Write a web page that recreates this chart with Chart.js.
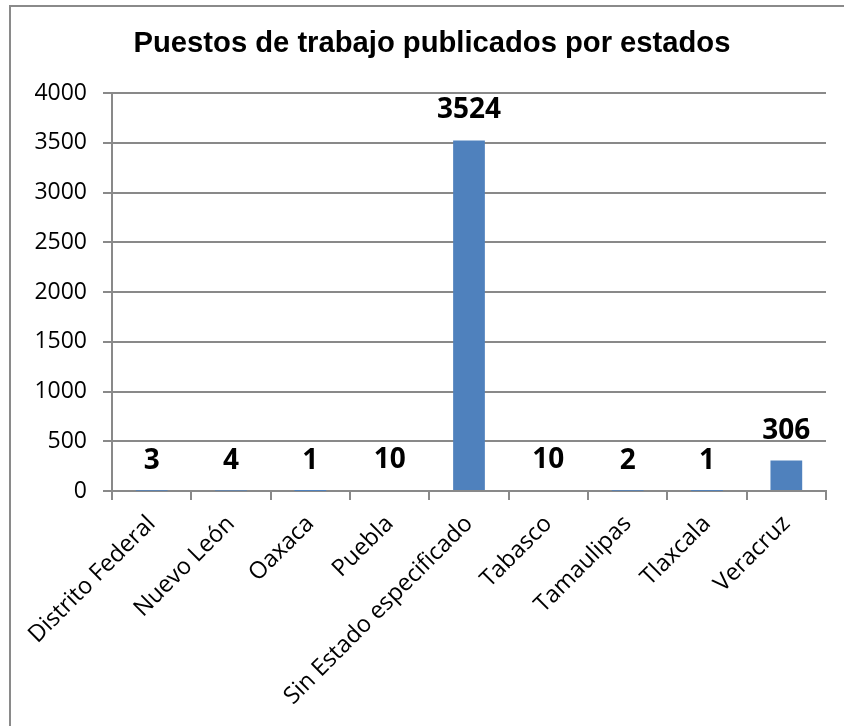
<!DOCTYPE html>
<html lang="es">
<head>
    <meta charset="UTF-8">
    <title>Puestos de trabajo publicados por estados</title>
    <script src="https://cdn.jsdelivr.net/npm/chart.js"></script>
</head>
<style>
    body {
        margin: 0;
        padding: 0;
        background-color: #ffffff;
        overflow: hidden;
    }
    .frame {
        position: absolute;
        left: 9px;
        top: 5px;
        width: 900px;
        height: 800px;
        border-left: 2px solid #8a8a8a;
        border-top: 2px solid #8a8a8a;
    }
    .wrap {
        position: absolute;
        left: 0;
        top: 0;
        width: 844px;
        height: 726px;
    }
</style>
<body>
    <div class="frame"></div>
    <div class="wrap">
        <canvas id="chart" width="844" height="726"></canvas>
    </div>

    <script>
        const estados = ['Distrito Federal', 'Nuevo León', 'Oaxaca', 'Puebla', 'Sin Estado especificado',
                         'Tabasco', 'Tamaulipas', 'Tlaxcala', 'Veracruz'];
        const puestos = [3, 4, 1, 10, 3524, 10, 2, 1, 306];
        const titulo = 'Puestos de trabajo publicados por estados';

        const gris = '#898989';
        const azul = '#4f81bd';

        // etiquetas de valor encima de cada barra
        const etiquetas = {
            id: 'etiquetas',
            afterLayout(chart) {
                // el titulo va centrado en el marco, no en el area del grafico
                chart.titleBlock.left = 38;
            },
            afterDatasetsDraw(chart) {
                const ctx = chart.ctx;
                const meta = chart.getDatasetMeta(0);
                ctx.save();
                ctx.font = 'bold 28px "Open Sans"';
                ctx.fillStyle = '#000000';
                ctx.textAlign = 'center';
                ctx.textBaseline = 'middle';
                meta.data.forEach((bar, i) => {
                    ctx.fillText(String(puestos[i]), bar.x, bar.y - 30);
                });
                ctx.restore();
            }
        };

        const ctx = document.getElementById('chart').getContext('2d');
        const chart = new Chart(ctx, {
            type: 'bar',
            data: {
                labels: estados,
                datasets: [{
                    data: puestos,
                    backgroundColor: azul,
                    borderWidth: 0,
                    categoryPercentage: 1,
                    barPercentage: 0.4
                }]
            },
            options: {
                responsive: false,
                animation: false,
                layout: {
                    padding: { left: 20, right: 18, top: 0, bottom: 0 }
                },
                plugins: {
                    legend: { display: false },
                    tooltip: { enabled: false },
                    title: {
                        display: true,
                        text: titulo,
                        color: '#000000',
                        font: { family: '"Liberation Sans", Arial', size: 29.2, weight: 'bold' },
                        padding: { top: 26, bottom: 32 }
                    }
                },
                scales: {
                    x: {
                        offset: true,
                        grid: {
                            offset: true,
                            drawOnChartArea: false,
                            drawTicks: true,
                            tickLength: 9,
                            color: gris,
                            lineWidth: 2
                        },
                        border: { color: gris, width: 2 },
                        ticks: {
                            color: '#000000',
                            autoSkip: false,
                            minRotation: 45,
                            maxRotation: 45,
                            padding: 10,
                            font: { family: '"Open Sans"', size: 23.5 }
                        },
                        afterFit(scale) { scale.height = 235; }
                    },
                    y: {
                        min: 0,
                        max: 4000,
                        grid: {
                            color: gris,
                            lineWidth: 2,
                            tickLength: 9
                        },
                        border: { color: gris, width: 2 },
                        ticks: {
                            stepSize: 500,
                            color: '#000000',
                            padding: 16,
                            font: { family: '"Open Sans"', size: 23 },
                            callback: (v) => String(v)
                        },
                        afterFit(scale) { scale.width = 92; }
                    }
                }
            },
            plugins: [etiquetas]
        });
    </script>
</body>
</html>
